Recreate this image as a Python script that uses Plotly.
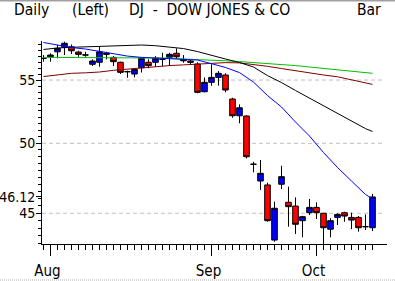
import plotly.graph_objects as go

# ---- data (trading-day index 0 = 31 Jul) ----
day_idx = list(range(48))
opens = [56.82, 56.96, 57.39, 57.78, 57.82, 57.37, 57.13, 56.32, 56.49, 57.28,
         56.91, 56.49, 55.69, 55.50, 56.03, 56.49, 56.49, 56.74, 56.91, 57.26,
         56.74, 56.60, 56.34, 54.04, 54.81, 55.22, 55.42, 53.45, 52.12, 52.10,
         48.44, 47.24, 46.96, 43.22, 47.01, 45.75, 45.49, 44.50, 45.04, 45.40,
         45.00, 43.93, 44.72, 45.04, 44.72, 44.72, 44.10, 44.03]
highs = [57.11, 57.26, 57.98, 58.27, 58.03, 57.48, 57.39, 56.74, 57.89, 57.39,
         57.02, 56.54, 55.78, 55.98, 56.91, 56.74, 57.02, 57.31, 57.31, 57.69,
         57.11, 56.74, 56.49, 55.22, 56.32, 55.75, 55.56, 53.55, 53.02, 52.15,
         48.63, 48.76, 47.12, 45.79, 48.34, 46.84, 46.09, 44.83, 45.98, 45.75,
         45.00, 44.66, 45.00, 45.10, 45.04, 44.81, 44.92, 46.32]
lows = [56.54, 56.54, 56.83, 57.11, 57.20, 56.96, 56.96, 56.17, 56.11, 56.74,
        56.17, 55.50, 55.19, 55.22, 55.62, 55.98, 56.11, 56.17, 56.17, 56.83,
        56.45, 56.26, 53.91, 53.99, 54.53, 54.53, 53.99, 51.96, 51.53, 48.88,
        47.86, 46.60, 44.43, 43.11, 46.67, 44.10, 43.62, 43.40, 44.88, 44.61,
        42.80, 43.40, 44.21, 44.43, 43.94, 43.77, 43.88, 43.81]
closes = [56.82, 57.11, 57.69, 58.13, 57.48, 57.17, 57.11, 56.60, 57.39, 57.17,
          56.54, 55.64, 55.70, 55.89, 56.83, 56.20, 56.83, 56.75, 57.17, 56.96,
          56.62, 56.49, 53.99, 54.81, 55.22, 55.56, 54.18, 52.12, 52.75, 49.00,
          48.45, 47.79, 44.50, 45.34, 47.55, 45.45, 44.26, 44.77, 45.40, 45.04,
          44.03, 44.50, 44.92, 44.81, 44.54, 44.03, 44.10, 46.12]

ma_idx = [0, 2, 4, 6, 8, 10, 12, 14, 16, 18, 20, 22, 24, 26, 28, 30, 32, 34,
          36, 38, 40, 42, 44, 46, 47]
ma_black = [57.59, 57.72, 57.78, 57.83, 57.87, 57.92, 57.98, 57.98, 57.92, 57.80,
            57.67, 57.41, 57.07, 56.77, 56.47, 56.09, 55.37, 54.79, 54.14, 53.52,
            52.90, 52.30, 51.71, 51.12, 50.90]
ma_blue = [58.20, 57.95, 57.76, 57.63, 57.41, 57.20, 57.02, 56.91, 56.85, 56.83,
           56.79, 56.68, 56.37, 56.05, 55.62, 54.83, 53.73, 52.81, 51.63, 50.55,
           49.31, 48.21, 47.24, 46.29, 45.98]
ma_green = [56.91, 56.91, 56.91, 56.91, 56.91, 56.90, 56.90, 56.89, 56.88, 56.85,
            56.77, 56.74, 56.68, 56.62, 56.55, 56.47, 56.42, 56.32, 56.21, 56.09,
            55.96, 55.83, 55.71, 55.59, 55.56]
ma_maroon = [55.29, 55.43, 55.56, 55.60, 55.67, 55.81, 55.92, 56.02, 56.13, 56.21,
             56.27, 56.34, 56.44, 56.46, 56.44, 56.32, 56.15, 55.96, 55.78, 55.56,
             55.42, 55.27, 55.00, 54.75, 54.64]

month_tick_idx = [1, 24, 39]
month_labels = ["Aug", "Sep", "Oct"]
y_grid_vals = [45, 50, 55]
last_price = 46.12

FONT = "DejaVu Sans Condensed"

fig = go.Figure()
fig.add_trace(go.Candlestick(
    x=day_idx, open=opens, high=highs, low=lows, close=closes,
    increasing=dict(fillcolor="#0000FF", line=dict(color="#000000", width=1)),
    decreasing=dict(fillcolor="#FF0000", line=dict(color="#000000", width=1)),
    whiskerwidth=0, showlegend=False, hoverinfo="skip"))

for vals, col in [(ma_maroon, "#800000"), (ma_green, "#00C000"),
                  (ma_black, "#000000"), (ma_blue, "#0000FF")]:
    fig.add_trace(go.Scatter(x=ma_idx, y=vals, mode="lines",
                             line=dict(color=col, width=1), showlegend=False,
                             hoverinfo="skip"))

for v in y_grid_vals:
    fig.add_shape(type="line", xref="paper", x0=0, x1=0.99, yref="y", y0=v, y1=v,
                  line=dict(color="#C0C0C0", width=1, dash="4px,3px"), layer="below")

# window frame: grey top edge and dotted bottom edge
fig.add_shape(type="line", xref="paper", yref="paper",
              x0=-42 / 345, x1=353 / 345, y0=1 + 40.5 / 203, y1=1 + 40.5 / 203,
              line=dict(color="#A0A0A0", width=2))
fig.add_shape(type="line", xref="paper", yref="paper",
              x0=-42 / 345, x1=353 / 345, y0=-36 / 203, y1=-36 / 203,
              line=dict(color="#B0B0B0", width=1, dash="1px,1px"))

ytick_vals = y_grid_vals + [last_price]
ytick_text = [str(v) for v in y_grid_vals] + [f"{last_price:.2f}"]

minor_y = [v / 2 for v in range(86, 117)]

fig.update_layout(
    width=395, height=281,
    margin=dict(l=42, r=8, t=41, b=37, autoexpand=False),
    paper_bgcolor="white", plot_bgcolor="white",
    font=dict(family=FONT, size=15, color="black"),
    boxgap=0.2, boxgroupgap=0,
    xaxis=dict(
        range=[-0.21, 49.07], rangeslider=dict(visible=False),
        automargin=False,
        showgrid=False, zeroline=False,
        showline=True, linecolor="black", linewidth=1,
        tickmode="array", tickvals=month_tick_idx, ticktext=month_labels,
        ticks="outside", ticklen=11, tickcolor="black", tickwidth=1,
        ticklabelshift=-3, ticklabelstandoff=2,
        minor=dict(tickmode="array", tickvals=day_idx, ticks="outside",
                   ticklen=5, tickcolor="black", tickwidth=1),
        tickfont=dict(family=FONT, size=15),
    ),
    yaxis=dict(
        type="log", range=[1.6331, 1.7659],
        automargin=False,
        showgrid=False, zeroline=False,
        showline=True, linecolor="black", linewidth=1,
        tickmode="array", tickvals=ytick_vals, ticktext=ytick_text,
        ticks="outside", ticklen=5, tickcolor="black", tickwidth=1,
        ticklabelstandoff=-2,
        minor=dict(tickmode="array", tickvals=minor_y, ticks="outside",
                   ticklen=3, tickcolor="black", tickwidth=1),
        tickfont=dict(family=FONT, size=14),
    ),
)

title_y = 1 + 31 / 203
for txt, xp, anchor in [("Daily", (11.7 - 42) / 345, "left"),
                        ("(Left)", (70 - 42) / 345, "left"),
                        ("DJ\u00a0\u00a0-\u00a0\u00a0DOW JONES & CO", (127 - 42) / 345, "left"),
                        ("Bar", (383 - 42) / 345, "right")]:
    fig.add_annotation(text=txt, xref="paper", yref="paper", x=xp, y=title_y,
                       xanchor=anchor, yanchor="middle", showarrow=False,
                       font=dict(family=FONT, size=15.5, color="black"))

fig.write_html("out.html")
